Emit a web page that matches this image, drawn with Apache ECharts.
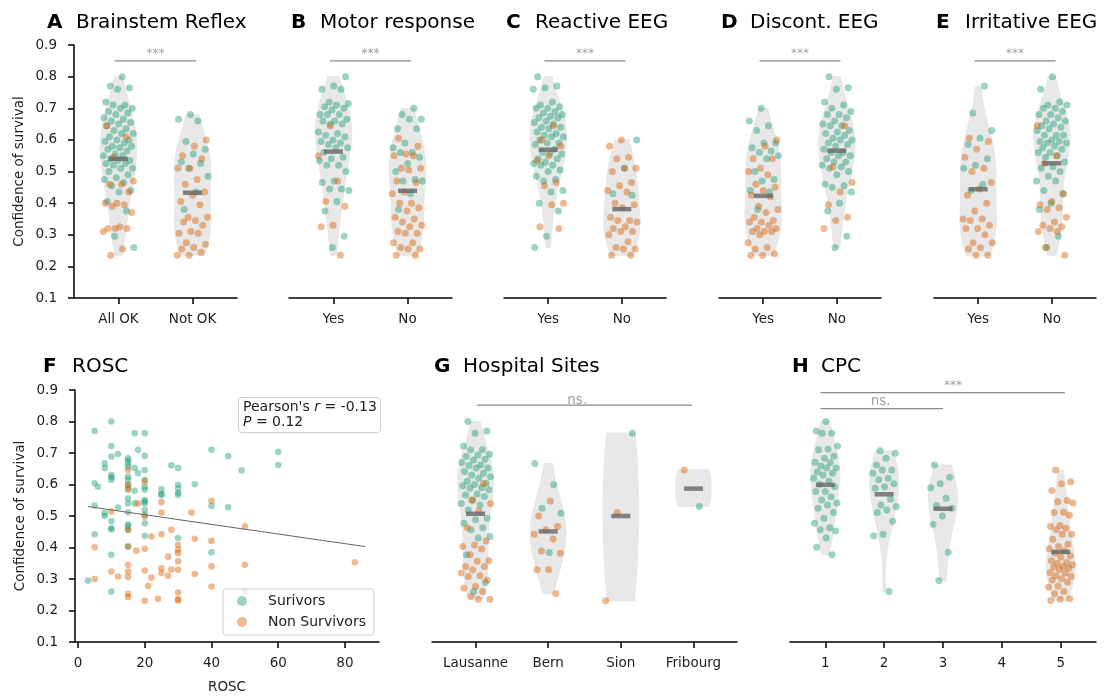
<!DOCTYPE html>
<html><head><meta charset="utf-8">
<script src="https://cdn.jsdelivr.net/npm/echarts@6/dist/echarts.min.js"></script>
<style>html,body{margin:0;padding:0;background:#fff}#c{width:1112px;height:696px}</style>
</head><body><div id="c"></div>
<script>
// ---------------- DATA ----------------
const catsA = ['All OK', 'Not OK'];
const catsYN = ['Yes', 'No'];
const catsG = ['Lausanne', 'Bern', 'Sion', 'Fribourg'];
const catsH = ['1', '2', '3', '4', '5'];
const yTicks = [0.1, 0.2, 0.3, 0.4, 0.5, 0.6, 0.7, 0.8, 0.9];
const roscTicks = [0, 20, 40, 60, 80];

// A Brainstem reflex
const A_S0 = [0.80,0.77,0.765,0.76,0.72,0.71,0.71,0.70,0.70,0.69,0.685,0.68,0.67,0.665,0.66,0.655,0.65,0.645,0.635,0.63,0.62,0.62,0.61,0.60,0.60,0.595,0.59,0.58,0.58,0.575,0.57,0.565,0.555,0.55,0.55,0.54,0.535,0.535,0.525,0.525,0.52,0.51,0.51,0.50,0.49,0.48,0.475,0.465,0.455,0.44,0.435,0.405,0.375,0.295,0.26];
const A_N0 = [0.645,0.61,0.545,0.47,0.46,0.46,0.435,0.40,0.40,0.395,0.39,0.37,0.325,0.32,0.32,0.32,0.31,0.255,0.235];
const A_S1 = [0.68,0.665,0.66,0.595,0.57,0.555,0.53,0.525,0.51,0.485,0.435,0.38];
const A_N1 = [0.60,0.58,0.55,0.54,0.51,0.51,0.475,0.46,0.435,0.425,0.405,0.395,0.355,0.355,0.345,0.34,0.33,0.31,0.305,0.305,0.275,0.27,0.26,0.255,0.245,0.235,0.235];
const A_med = [0.54, 0.433];

// B Motor response
const B_S0 = [0.80,0.77,0.76,0.76,0.72,0.715,0.71,0.705,0.70,0.695,0.68,0.68,0.68,0.665,0.66,0.66,0.65,0.65,0.625,0.62,0.615,0.61,0.60,0.595,0.59,0.585,0.575,0.575,0.56,0.545,0.54,0.535,0.52,0.52,0.50,0.47,0.465,0.445,0.445,0.44,0.405,0.375,0.295,0.26];
const B_N0 = [0.645,0.55,0.47,0.405,0.39,0.33,0.325,0.235];
const B_S1 = [0.70,0.68,0.665,0.665,0.635,0.635,0.59,0.575,0.56,0.56,0.545,0.525,0.50,0.475,0.47,0.47,0.43,0.38];
const B_N1 = [0.605,0.58,0.555,0.55,0.55,0.51,0.51,0.505,0.47,0.465,0.435,0.43,0.40,0.40,0.385,0.375,0.355,0.35,0.34,0.33,0.325,0.31,0.305,0.305,0.275,0.275,0.26,0.255,0.255,0.235,0.235];
const B_med = [0.563, 0.439];

// C Reactive EEG
const C_S0 = [0.80,0.77,0.765,0.76,0.72,0.71,0.705,0.70,0.70,0.69,0.685,0.68,0.675,0.67,0.67,0.66,0.655,0.65,0.64,0.64,0.635,0.625,0.62,0.615,0.61,0.61,0.60,0.59,0.59,0.585,0.57,0.56,0.555,0.555,0.54,0.54,0.53,0.525,0.52,0.52,0.505,0.50,0.485,0.475,0.47,0.44,0.435,0.40,0.375,0.295,0.26];
const C_N0 = [0.645,0.60,0.58,0.55,0.535,0.465,0.455,0.40,0.395,0.325,0.32];
const C_S1 = [0.60,0.51,0.43,0.425];
const C_N1 = [0.60,0.58,0.545,0.54,0.51,0.51,0.50,0.465,0.455,0.44,0.435,0.40,0.395,0.385,0.355,0.345,0.345,0.34,0.325,0.32,0.31,0.31,0.30,0.278,0.26,0.255,0.255,0.235,0.235];
const C_med = [0.569, 0.381];

// D Discont. EEG
const D_S0 = [0.70,0.66,0.645,0.63,0.59,0.59,0.575,0.565,0.56,0.55,0.54,0.50,0.475,0.47,0.44,0.435,0.38];
const D_N0 = [0.60,0.58,0.54,0.54,0.51,0.50,0.49,0.46,0.45,0.44,0.425,0.42,0.39,0.38,0.37,0.355,0.345,0.34,0.34,0.33,0.32,0.32,0.31,0.31,0.31,0.30,0.275,0.26,0.255,0.24,0.235,0.235];
const D_S1 = [0.80,0.765,0.76,0.72,0.71,0.70,0.69,0.68,0.68,0.67,0.66,0.65,0.645,0.645,0.63,0.625,0.62,0.615,0.605,0.60,0.60,0.59,0.585,0.58,0.57,0.56,0.56,0.55,0.55,0.54,0.53,0.53,0.52,0.515,0.51,0.50,0.49,0.46,0.455,0.45,0.435,0.40,0.375,0.295,0.26];
const D_N1 = [0.645,0.515,0.465,0.435,0.395,0.355,0.345,0.32];
const D_med = [0.423, 0.566];

// E Irritative EEG
const E_S0 = [0.77,0.685,0.63,0.605,0.585,0.54,0.52,0.51,0.46,0.44];
const E_N0 = [0.605,0.595,0.57,0.545,0.51,0.50,0.465,0.445,0.425,0.40,0.375,0.35,0.35,0.345,0.33,0.32,0.32,0.30,0.275,0.275,0.26,0.255,0.235,0.235];
const E_S1 = [0.80,0.76,0.72,0.71,0.71,0.70,0.70,0.69,0.68,0.68,0.67,0.66,0.66,0.65,0.645,0.64,0.635,0.63,0.615,0.615,0.615,0.60,0.595,0.595,0.59,0.59,0.58,0.575,0.57,0.56,0.56,0.55,0.545,0.53,0.515,0.51,0.50,0.485,0.47,0.47,0.44,0.43,0.40,0.38,0.295,0.26];
const E_N1 = [0.645,0.55,0.525,0.43,0.405,0.395,0.385,0.38,0.355,0.34,0.33,0.325,0.32,0.31,0.31,0.26,0.235];
const E_med = [0.444, 0.526];

// F ROSC scatter [ROSC, confidence]
const F_S = [[3,0.295],[5,0.77],[5,0.604],[6,0.593],[5,0.533],[5,0.442],[8,0.667],[8,0.652],[8,0.509],[8,0.50],[10,0.80],[10,0.722],[10,0.689],[12,0.697],[10,0.63],[10,0.623],[10,0.615],[10,0.483],[10,0.461],[10,0.458],[10,0.377],[10,0.26],[12,0.527],[15,0.683],[15,0.676],[15,0.667],[15,0.657],[15,0.625],[15,0.615],[15,0.599],[15,0.588],[15,0.556],[15,0.54],[15,0.512],[15,0.474],[15,0.467],[15,0.456],[15,0.403],[17,0.763],[17,0.652],[17,0.58],[17,0.54],[18,0.71],[18,0.636],[20,0.763],[20,0.691],[20,0.646],[20,0.615],[20,0.593],[20,0.583],[20,0.551],[20,0.546],[20,0.54],[20,0.519],[20,0.504],[20,0.477],[20,0.437],[25,0.585],[25,0.57],[25,0.567],[28,0.661],[30,0.652],[30,0.599],[30,0.588],[30,0.574],[30,0.567],[30,0.43],[35,0.601],[40,0.71],[40,0.532],[40,0.385],[45,0.69],[45,0.528],[49,0.645],[60,0.704],[60,0.662]];
const F_N = [[5,0.401],[5,0.30],[10,0.514],[10,0.324],[12,0.308],[15,0.646],[15,0.599],[15,0.583],[15,0.456],[15,0.403],[15,0.345],[15,0.324],[15,0.306],[15,0.253],[15,0.243],[17.5,0.39],[18,0.54],[20,0.609],[20,0.498],[20,0.396],[20,0.327],[20,0.231],[21,0.278],[22,0.435],[22,0.305],[24,0.237],[25,0.544],[25,0.511],[25,0.442],[25,0.334],[25,0.319],[27,0.371],[27,0.31],[28,0.456],[28,0.33],[30,0.408],[30,0.393],[30,0.382],[30,0.356],[30,0.329],[30,0.257],[30,0.236],[30,0.232],[34,0.511],[35,0.428],[35,0.316],[40,0.548],[40,0.421],[40,0.34],[40,0.276],[50,0.467],[50,0.345],[50,0.26],[83,0.353]];
const F_reg = [[3, 0.53], [86, 0.403]];
const pearsonR = '-0.13';
const pearsonP = '0.12';

// G Hospital sites
const G_S0 = [0.80,0.77,0.763,0.722,0.71,0.71,0.696,0.694,0.689,0.68,0.678,0.67,0.662,0.66,0.652,0.652,0.641,0.636,0.63,0.625,0.62,0.61,0.604,0.60,0.596,0.59,0.588,0.583,0.57,0.567,0.562,0.55,0.54,0.535,0.519,0.493,0.488,0.477,0.463,0.456,0.435,0.43,0.377,0.289,0.26];
const G_N0 = [0.602,0.551,0.54,0.516,0.463,0.421,0.408,0.403,0.395,0.377,0.358,0.356,0.34,0.34,0.329,0.319,0.31,0.308,0.297,0.276,0.271,0.26,0.245,0.236,0.236];
const G_S1 = [0.667,0.599,0.525,0.509,0.384];
const G_N1 = [0.548,0.5,0.467,0.456,0.442,0.427,0.389,0.382,0.329,0.329,0.253];
const G_S2 = [0.763];
const G_N2 = [0.511,0.231];
const G_S3 = [0.53];
const G_N3 = [0.646];
const G_med = [0.507, 0.451, 0.50, 0.587];

// H CPC
const H_S0 = [0.80,0.77,0.763,0.763,0.722,0.712,0.71,0.69,0.683,0.671,0.67,0.659,0.652,0.652,0.64,0.636,0.63,0.62,0.61,0.601,0.593,0.578,0.578,0.56,0.551,0.541,0.535,0.525,0.511,0.493,0.477,0.463,0.456,0.452,0.43,0.401,0.377];
const H_S1 = [0.707,0.699,0.683,0.662,0.646,0.646,0.636,0.62,0.615,0.602,0.593,0.588,0.553,0.535,0.53,0.519,0.511,0.483,0.442,0.437,0.26];
const H_S2 = [0.662,0.623,0.602,0.59,0.556,0.533,0.525,0.5,0.474,0.385,0.295];
const H_N4 = [0.646,0.609,0.602,0.581,0.549,0.545,0.541,0.512,0.511,0.502,0.47,0.467,0.461,0.456,0.442,0.442,0.426,0.41,0.403,0.396,0.39,0.382,0.374,0.369,0.358,0.352,0.35,0.345,0.34,0.337,0.334,0.33,0.32,0.319,0.31,0.308,0.301,0.297,0.29,0.278,0.274,0.26,0.253,0.237,0.236,0.232];
const H_med = [0.599, 0.569, 0.523, null, 0.386];

// ---------------- STYLE / LAYOUT ----------------
const FONT = 'DejaVu Sans';
const GREEN = 'rgba(27,158,119,0.55)';
const ORANGE = 'rgba(217,95,2,0.55)';
const TXT = '#222';
const SIG = '#8a8a8a';
const FS = 13.5;

const panels = [
  {L:'A', title:'Brainstem Reflex', cats:catsA, S:[A_S0,A_S1], N:[A_N0,A_N1], med:A_med, yAxis:true,
   grid:{left:74, top:45, width:163, height:253}, tl:[47, 13],
   sig:[{from:-0.05, to:1.05, y:0.85, text:'***', tx:0.5, ty:0.873, fs:12}]},
  {L:'B', title:'Motor response', cats:catsYN, S:[B_S0,B_S1], N:[B_N0,B_N1], med:B_med,
   grid:{left:289, top:45, width:163, height:253}, tl:[291, 13],
   sig:[{from:-0.05, to:1.05, y:0.85, text:'***', tx:0.5, ty:0.873, fs:12}]},
  {L:'C', title:'Reactive EEG', cats:catsYN, S:[C_S0,C_S1], N:[C_N0,C_N1], med:C_med,
   grid:{left:504, top:45, width:162, height:253}, tl:[506, 13],
   sig:[{from:-0.05, to:1.05, y:0.85, text:'***', tx:0.5, ty:0.873, fs:12}]},
  {L:'D', title:'Discont. EEG', cats:catsYN, S:[D_S0,D_S1], N:[D_N0,D_N1], med:D_med,
   grid:{left:719, top:45, width:162, height:253}, tl:[721, 13],
   sig:[{from:-0.05, to:1.05, y:0.85, text:'***', tx:0.5, ty:0.873, fs:12}]},
  {L:'E', title:'Irritative EEG', cats:catsYN, S:[E_S0,E_S1], N:[E_N0,E_N1], med:E_med,
   grid:{left:934, top:45, width:162, height:253}, tl:[936, 13],
   sig:[{from:-0.05, to:1.05, y:0.85, text:'***', tx:0.5, ty:0.873, fs:12}]},
  {L:'F', title:'ROSC', scatter:true, yAxis:true,
   grid:{left:75, top:390, width:304, height:252}, tl:[43, 357]},
  {L:'G', title:'Hospital Sites', cats:catsG, S:[G_S0,G_S1,G_S2,G_S3], N:[G_N0,G_N1,G_N2,G_N3], med:G_med,
   grid:{left:432, top:390, width:305, height:252}, tl:[434, 357],
   sig:[{from:0.02, to:2.98, y:0.852, text:'ns.', tx:1.4, ty:0.868, fs:13.5}]},
  {L:'H', title:'CPC', cats:catsH, S:[H_S0,H_S1,H_S2,[],[]], N:[[],[],[],[],H_N4], med:H_med,
   grid:{left:790, top:390, width:306, height:252}, tl:[792, 357],
   sig:[{from:-0.08, to:4.07, y:0.8915, text:'***', tx:2.17, ty:0.914, fs:12},
        {from:-0.08, to:2.0, y:0.841, text:'ns.', tx:0.94, ty:0.862, fs:13.5}]}
];

// deterministic low-discrepancy jitter (layout only)
function jitter(i, seed) {
  const f = ((i + 1) * 0.6180339887 + seed * 0.2718) % 1;
  return (f - 0.5) * 0.42;
}

// Gaussian KDE (Scott bandwidth), cut at data range, scaled to half-width
function kdeShape(vals, half) {
  const n = vals.length;
  if (n < 2) return null;
  const mean = vals.reduce((a, b) => a + b, 0) / n;
  const sd = Math.sqrt(vals.reduce((a, b) => a + (b - mean) * (b - mean), 0) / (n - 1));
  const bw = sd * Math.pow(n, -0.2) * 1.1;
  const lo = Math.min(...vals), hi = Math.max(...vals);
  const K = 80, pts = [];
  for (let k = 0; k <= K; k++) {
    const y = lo + (hi - lo) * k / K;
    let d = 0;
    for (const v of vals) { const z = (y - v) / bw; d += Math.exp(-0.5 * z * z); }
    pts.push([y, d]);
  }
  const mx = Math.max(...pts.map(p => p[1]));
  return pts.map(p => [p[0], p[1] / mx * half]);
}

const axisLineStyle = {color: '#000', width: 1.5};
const grids = [], xAxes = [], yAxes = [], series = [], titles = [];

panels.forEach((p, pi) => {
  grids.push(Object.assign({containLabel: false}, p.grid));
  titles.push({
    left: p.tl[0], top: p.tl[1], padding: 0,
    text: '{b|' + p.L + '}{t|' + p.title + '}',
    textStyle: {fontWeight: 'normal', fontFamily: FONT, fontSize: 20, rich: {
      b: {fontFamily: FONT, fontSize: 20, fontWeight: 'bold', color: '#000', width: 29},
      t: {fontFamily: FONT, fontSize: 20, fontWeight: 'normal', color: '#000'}
    }}
  });
  // y axis
  yAxes.push({
    type: 'value', gridIndex: pi, min: 0.1, max: 0.9, show: !!p.yAxis,
    axisLine: {show: true, onZero: false, lineStyle: axisLineStyle},
    axisTick: {show: true, customValues: yTicks, length: 6, lineStyle: axisLineStyle},
    axisLabel: {customValues: yTicks, formatter: v => v.toFixed(1), fontSize: FS, color: TXT, fontFamily: FONT, margin: 17},
    splitLine: {show: false},
    name: p.yAxis ? 'Confidence of survival' : '',
    nameLocation: 'middle', nameGap: 48,
    nameTextStyle: {fontSize: FS, color: TXT, fontFamily: FONT}
  });
  if (p.scatter) {
    xAxes.push({
      type: 'value', gridIndex: pi, min: -0.9, max: 90.2,
      axisLine: {show: true, onZero: false, lineStyle: axisLineStyle},
      axisTick: {show: true, customValues: roscTicks, length: 6, lineStyle: axisLineStyle},
      axisLabel: {customValues: roscTicks, fontSize: FS, color: TXT, fontFamily: FONT, margin: 14},
      splitLine: {show: false},
      name: 'ROSC', nameLocation: 'middle', nameGap: 38,
      nameTextStyle: {fontSize: FS, color: TXT, fontFamily: FONT}
    });
    series.push({type: 'scatter', name: 'Surivors', xAxisIndex: pi, yAxisIndex: pi, data: F_S,
      symbolSize: 6.6, itemStyle: {color: GREEN}, z: 3, silent: true});
    series.push({type: 'scatter', name: 'Non Survivors', xAxisIndex: pi, yAxisIndex: pi, data: F_N,
      symbolSize: 6.6, itemStyle: {color: ORANGE}, z: 3, silent: true});
    series.push({type: 'line', xAxisIndex: pi, yAxisIndex: pi, data: F_reg, symbol: 'none',
      lineStyle: {color: '#666', width: 1}, z: 4, silent: true});
    return;
  }
  const idx = p.cats.map((c, i) => i);
  xAxes.push({
    type: 'value', gridIndex: pi, min: -0.6, max: p.cats.length - 0.4,
    axisLine: {show: true, onZero: false, lineStyle: axisLineStyle},
    axisTick: {show: true, customValues: idx, length: 6, lineStyle: axisLineStyle},
    axisLabel: {customValues: idx, formatter: v => p.cats[Math.round(v)], fontSize: FS, color: TXT, fontFamily: FONT, margin: 14},
    splitLine: {show: false}
  });
  const groups = p.cats.map((c, g) => (p.S[g] || []).concat(p.N[g] || []));
  const shapes = groups.map(v => kdeShape(v, 0.245));
  series.push({
    type: 'custom', xAxisIndex: pi, yAxisIndex: pi, silent: true, z: 1,
    data: groups.map((v, g) => [g, 0.5]),
    encode: {x: 0, y: 1},
    renderItem: (params, api) => {
      const g = api.value(0);
      const sh = shapes[g];
      if (!sh) return {type: 'group', children: []};
      const right = sh.map(([y, w]) => api.coord([g + w, y]));
      const left = sh.slice().reverse().map(([y, w]) => api.coord([g - w, y]));
      return {type: 'polygon', shape: {points: right.concat(left)},
        style: {fill: '#e8e8e8', stroke: '#e6e6e6', lineWidth: 1}};
    }
  });
  [['S', GREEN], ['N', ORANGE]].forEach(([k, col], ki) => {
    const data = [];
    p[k].forEach((arr, g) => (arr || []).forEach((v, i) => {
      data.push([g + jitter(i + ki * 17, g * 3 + pi), v]);
    }));
    series.push({type: 'scatter', xAxisIndex: pi, yAxisIndex: pi, data, symbolSize: 7,
      itemStyle: {color: col}, z: 3, silent: true});
  });
  series.push({type: 'scatter', xAxisIndex: pi, yAxisIndex: pi, symbol: 'rect', symbolSize: [19, 4.5],
    data: p.med.map((m, g) => m == null ? null : [g, m]).filter(Boolean),
    itemStyle: {color: '#666'}, z: 5, silent: true});
  (p.sig || []).forEach(s => {
    series.push({type: 'line', xAxisIndex: pi, yAxisIndex: pi, data: [[s.from, s.y], [s.to, s.y]],
      symbol: 'none', lineStyle: {color: SIG, width: 1.2}, z: 4, silent: true, clip: false});
    series.push({type: 'scatter', xAxisIndex: pi, yAxisIndex: pi, data: [[s.tx, s.ty]], symbolSize: 0,
      clip: false, itemStyle: {color: 'transparent'}, silent: true, z: 4,
      label: {show: true, position: 'inside', formatter: s.text, color: SIG, fontSize: s.fs, fontFamily: FONT}});
  });
});

// Pearson annotation box
titles.push({
  left: 238, top: 397, padding: [3, 4, 3, 5],
  borderColor: '#cfcfcf', borderWidth: 1, borderRadius: 3, backgroundColor: 'rgba(255,255,255,0.8)',
  text: "Pearson's {i|r} = " + pearsonR + "\n{i|P} = " + pearsonP,
  textStyle: {fontFamily: FONT, fontSize: 14, fontWeight: 'normal', color: TXT, lineHeight: 15,
    rich: {i: {fontFamily: FONT, fontSize: 14, fontStyle: 'italic', color: TXT, lineHeight: 15}}}
});

const chart = echarts.init(document.getElementById('c'), null, {renderer: 'canvas'});
chart.setOption({
  animation: false,
  backgroundColor: '#fff',
  title: titles,
  grid: grids,
  xAxis: xAxes,
  yAxis: yAxes,
  legend: {
    left: 223, top: 589, orient: 'vertical', icon: 'circle',
    itemWidth: 10, itemHeight: 10, itemGap: 7,
    padding: [5, 8, 6, 14],
    borderColor: '#cfcfcf', borderWidth: 1, borderRadius: 3, backgroundColor: 'rgba(255,255,255,0.8)',
    textStyle: {fontFamily: FONT, fontSize: 14, color: TXT, padding: [0, 0, 0, 16]},
    data: ['Surivors', 'Non Survivors'],
    selectedMode: false
  },
  series: series
});
</script></body></html>
